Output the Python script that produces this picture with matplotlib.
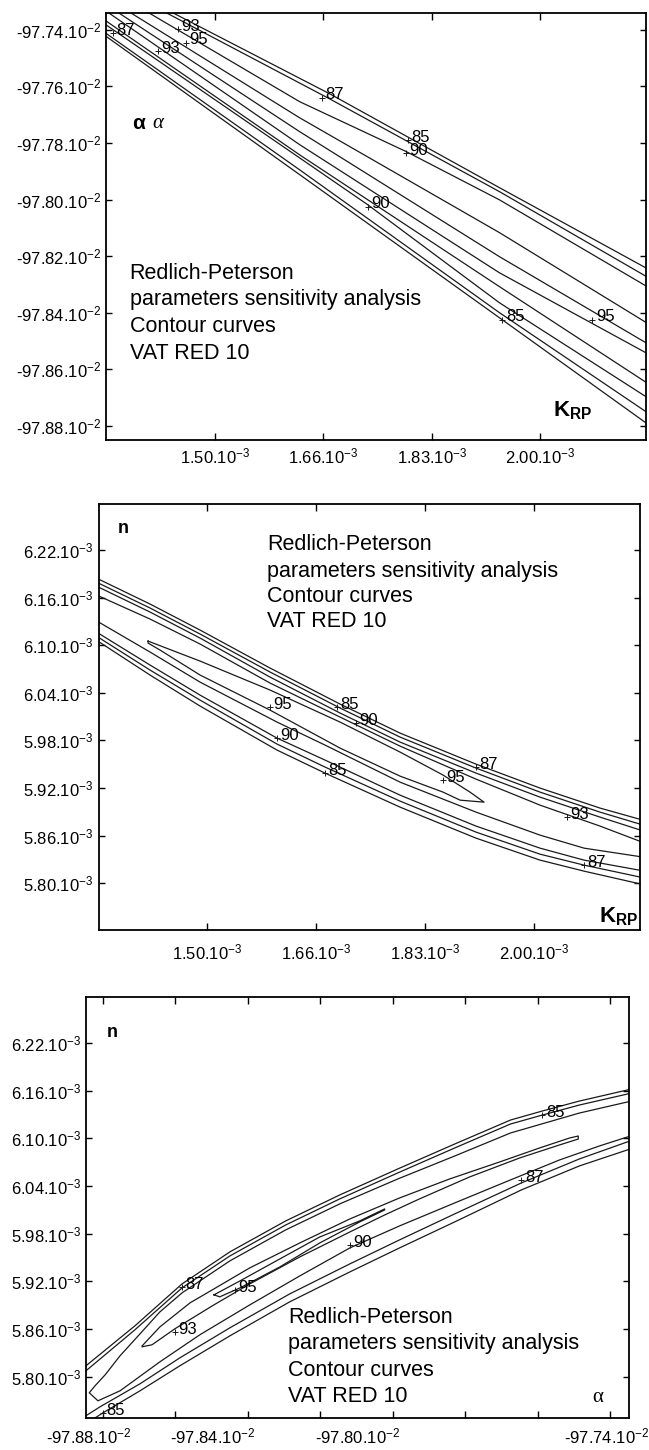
import matplotlib
matplotlib.use("Agg")
import matplotlib.pyplot as plt
from matplotlib.transforms import ScaledTranslation

plt.rcParams['font.family'] = ['Liberation Sans', 'DejaVu Sans']
plt.rcParams['mathtext.fontset'] = 'custom'
plt.rcParams['mathtext.rm'] = 'Liberation Sans'
plt.rcParams['mathtext.it'] = 'Liberation Sans:italic'
plt.rcParams['mathtext.bf'] = 'Liberation Sans:bold'

# ---------------- axes ticks / labels ----------------
k_ticks = [1.50, 1.6667, 1.8333, 2.00]                     # K_RP (x 1e-3)
k_labels = ['1.50', '1.66', '1.83', '2.00']
a_ticks = [-97.74, -97.76, -97.78, -97.80, -97.82, -97.84, -97.86, -97.88]   # alpha (x 1e-2)
n_ticks = [6.22, 6.16, 6.10, 6.04, 5.98, 5.92, 5.86, 5.80]                    # n (x 1e-3)
a3_ticks = [-97.88, -97.86, -97.84, -97.82, -97.80, -97.78, -97.76, -97.74]
a3_labels = ['-97.88', '', '-97.84', '', '-97.80', '', '', '-97.74']

# ---------------- panel 1 : alpha vs K_RP ----------------
# branches from top (85 upper) to bottom (85 lower)
p1_x = [
    [1.3972, 1.6764, 1.9371, 2.1979],
    [1.3880, 1.6764, 1.9371, 2.1979],
    [1.3650, 1.6304, 1.7945, 1.9371, 2.1979],
    [1.3390, 1.6304, 1.9371, 2.1979],
    [1.3221, 1.6304, 1.9371, 2.1979],
    [1.3083, 1.6304, 1.9371, 2.1979],
    [1.3083, 1.6304, 1.9371, 2.1979],
    [1.3083, 1.7347, 1.9371, 2.1979],
    [1.3083, 1.6304, 1.9371, 2.1979],
    [1.3083, 1.6304, 1.9371, 2.1979],
]
p1_y = [
    [-97.7294, -97.7626, -97.7958, -97.8287],
    [-97.7294, -97.7644, -97.7972, -97.8319],
    [-97.7294, -97.7654, -97.7831, -97.8001, -97.8354],
    [-97.7294, -97.7711, -97.8117, -97.8485],
    [-97.7294, -97.7760, -97.8202, -97.8555],
    [-97.7294, -97.7806, -97.8259, -97.8587],
    [-97.7329, -97.7842, -97.8308, -97.8700],
    [-97.7343, -97.8018, -97.8365, -97.8750],
    [-97.7372, -97.7895, -97.8400, -97.8806],
    [-97.7382, -97.7912, -97.8418, -97.8849],
]
p1_lab_x = [1.3436, 1.4433, 1.4560, 1.4126, 1.6641, 1.7960, 1.7929, 1.7347, 1.9417, 2.0798]
p1_lab_y = [-97.7411, -97.7398, -97.7445, -97.7474, -97.7640, -97.7789, -97.7835, -97.8025, -97.8425, -97.8425]
p1_lab_t = ['87', '93', '95', '93', '87', '85', '90', '90', '85', '95']

# ---------------- panel 2 : n vs K_RP ----------------
p2_xu = [1.3211, 1.4128, 1.4893, 1.5963, 1.7034, 1.7951, 1.9113, 2.0092, 2.1009, 2.1774]
p2_xl = [1.3211, 1.4128, 1.4893, 1.6070, 1.6804, 1.7951, 1.9113, 2.0092, 2.0765, 2.1774]
p2_85u = [6.1885, 6.1519, 6.1191, 6.0712, 6.0258, 5.9892, 5.9501, 5.9199, 5.8947, 5.8770]
p2_87u = [6.1834, 6.1469, 6.1141, 6.0662, 6.0208, 5.9842, 5.9451, 5.9148, 5.8896, 5.8707]
p2_90u = [6.1784, 6.1418, 6.1090, 6.0598, 6.0145, 5.9779, 5.9388, 5.9085, 5.8833, 5.8631]
p2_93u = [6.1670, 6.1330, 6.1015, 6.0523, 6.0094, 5.9728, 5.9312, 5.8984, 5.8720, 5.8480]
p2_93l = [6.1355, 6.0914, 6.0535, 6.0031, 5.9741, 5.9274, 5.8896, 5.8606, 5.8442, 5.8316]
p2_90l = [6.1216, 6.0750, 6.0371, 5.9829, 5.9552, 5.9110, 5.8720, 5.8442, 5.8291, 5.8140]
p2_87l = [6.1166, 6.0687, 6.0308, 5.9754, 5.9464, 5.9035, 5.8644, 5.8366, 5.8228, 5.8051]
p2_85l = [6.1116, 6.0624, 6.0233, 5.9678, 5.9388, 5.8959, 5.8568, 5.8291, 5.8152, 5.7963]
p2_95_x = [1.4098, 1.4893, 1.5963, 1.7034, 1.7951, 1.8609, 1.9021, 1.9235, 1.8869, 1.8609,
           1.7951, 1.7034, 1.5963, 1.4893, 1.4281, 1.4098, 1.4098]
p2_95_y = [6.1052, 6.0800, 6.0435, 6.0031, 5.9653, 5.9363, 5.9148, 5.9022, 5.9047, 5.9148,
           5.9350, 5.9703, 6.0182, 6.0624, 6.0939, 6.1027, 6.1052]
p2_lab_x = [1.5963, 1.6988, 1.7278, 1.6070, 1.6804, 1.8609, 1.9113, 2.0505, 2.0765]
p2_lab_y = [6.0220, 6.0220, 6.0018, 5.9829, 5.9388, 5.9300, 5.9464, 5.8833, 5.8228]
p2_lab_t = ['95', '85', '90', '90', '85', '95', '87', '93', '87']

# ---------------- panel 3 : n vs alpha ----------------
p3_85u_x = [-97.8862, -97.8846, -97.8711, -97.8581, -97.8449, -97.8295, -97.8146, -97.7986,
            -97.7829, -97.7675, -97.7587, -97.7485, -97.7353, -97.7320]
p3_85u_y = [5.8061, 5.8137, 5.8640, 5.9168, 5.9571, 5.9961, 6.0288, 6.0615,
            6.0929, 6.1231, 6.1345, 6.1470, 6.1609, 6.1646]
p3_87u_x = p3_85u_x
p3_87u_y = [5.7986, 5.8074, 5.8590, 5.9118, 5.9520, 5.9910, 6.0238, 6.0565,
            6.0879, 6.1181, 6.1294, 6.1420, 6.1558, 6.1596]
# 90 : open on the right, closes just inside the left border
p3_90_x = [-97.7320, -97.7353, -97.7485, -97.7675, -97.7829, -97.7986, -97.8146, -97.8295,
           -97.8449, -97.8581, -97.8642, -97.8697, -97.8752, -97.8793, -97.8821, -97.8837,
           -97.8813, -97.8752, -97.8642, -97.8532, -97.8394, -97.8256, -97.8118, -97.7981,
           -97.7829, -97.7675, -97.7540, -97.7430, -97.7353, -97.7320]
p3_90_y = [6.1496, 6.1458, 6.1319, 6.1068, 6.0778, 6.0489, 6.0175, 5.9848,
           5.9458, 5.9055, 5.8816, 5.8539, 5.8263, 5.8024, 5.7885, 5.7797,
           5.7696, 5.7822, 5.8187, 5.8527, 5.8904, 5.9269, 5.9621, 5.9898,
           6.0187, 6.0477, 6.0728, 6.0904, 6.1017, 6.1055]
p3_87l_x = [-97.8846, -97.8807, -97.8697, -97.8587, -97.8449, -97.8284, -97.8118, -97.7981,
            -97.7829, -97.7645, -97.7485, -97.7353, -97.7320]
p3_87l_y = [5.7508, 5.7621, 5.7910, 5.8237, 5.8615, 5.9042, 5.9420, 5.9722,
            6.0049, 6.0439, 6.0741, 6.0955, 6.0992]
p3_85l_x = [-97.8846, -97.8799, -97.8697, -97.8587, -97.8449, -97.8284, -97.8118, -97.7981,
            -97.7829, -97.7645, -97.7485, -97.7353, -97.7320]
p3_85l_y = [5.7407, 5.7545, 5.7822, 5.8137, 5.8514, 5.8942, 5.9319, 5.9621,
            5.9948, 6.0351, 6.0653, 6.0854, 6.0904]
p3_93_x = [-97.8691, -97.8642, -97.8559, -97.8493, -97.8394, -97.8256, -97.8118, -97.7981,
           -97.7843, -97.7705, -97.7595, -97.7512, -97.7488, -97.7488, -97.7540, -97.7650,
           -97.7788, -97.7926, -97.8022, -97.8118, -97.8256, -97.8394, -97.8493, -97.8601,
           -97.8664, -97.8691]
p3_93_y = [5.8388, 5.8627, 5.8929, 5.9105, 5.9370, 5.9684, 5.9986, 6.0250,
           6.0489, 6.0703, 6.0879, 6.1005, 6.1030, 6.0992, 6.0917, 6.0753,
           6.0514, 6.0238, 6.0036, 5.9822, 5.9508, 5.9168, 5.8904, 5.8602,
           5.8401, 5.8376]
p3_95_x = [-97.8493, -97.8421, -97.8311, -97.8201, -97.8091, -97.8022, -97.8022, -97.8091,
           -97.8201, -97.8311, -97.8421, -97.8477, -97.8493]
p3_95_y = [5.9030, 5.9206, 5.9483, 5.9759, 5.9961, 6.0112, 6.0099, 5.9948,
           5.9684, 5.9382, 5.9118, 5.9005, 5.9030]
p3_lab_x = [-97.7587, -97.7645, -97.8118, -97.8581, -97.8435, -97.8601, -97.8799]
p3_lab_y = [6.1294, 6.0477, 5.9659, 5.9130, 5.9093, 5.8564, 5.7545]
p3_lab_t = ['85', '87', '90', '87', '95', '93', '85']

block = ['Redlich-Peterson', 'parameters sensitivity analysis', 'Contour curves', 'VAT RED 10']

line_kw = dict(color='#1a1a1a', lw=0.9)


def contour_labels(ax, xs, ys, txt):
    for x, y, t in zip(xs, ys, txt):
        ax.plot(x, y, marker='+', ms=4, mew=0.7, color='#1a1a1a')
        ax.annotate(t, (x, y), xytext=(2.5, 2), textcoords='offset points',
                    ha='left', va='center', fontsize=12)


def style(ax):
    for s in ax.spines.values():
        s.set_linewidth(1.3)
    ax.tick_params(axis='x', direction='in', top=True, bottom=True, length=5, width=1,
                   labelsize=12)
    ax.tick_params(axis='y', direction='in', left=True, right=True, length=4, width=1,
                   labelsize=12)


def text_block(ax, x, ys):
    for y, t in zip(ys, block):
        ax.text(x, y, t, transform=ax.transAxes, fontsize=15.5, ha='left', va='baseline')


fig = plt.figure(figsize=(6.49, 14.5), dpi=100)
ax1 = fig.add_axes([0.1633, 0.6966, 0.8320, 0.2945])
ax2 = fig.add_axes([0.1518, 0.3586, 0.8344, 0.2938])
ax3 = fig.add_axes([0.1325, 0.0221, 0.8367, 0.2903])

# panel 1
for xs, ys in zip(p1_x, p1_y):
    ax1.plot(xs, ys, **line_kw)
contour_labels(ax1, p1_lab_x, p1_lab_y, p1_lab_t)
ax1.set_xlim(1.333, 2.162)
ax1.set_ylim(-97.885, -97.734)
ax1.set_xticks(k_ticks)
ax1.set_xticklabels([s + '.10$^{-3}$' for s in k_labels])
ax1.set_yticks(a_ticks)
ax1.set_yticklabels(['%.2f.10$^{-2}$' % v for v in a_ticks])
style(ax1)
ax1.tick_params(axis='x', pad=5)
ax1.text(0.048, 0.742, 'α', transform=ax1.transAxes, fontsize=15, fontweight='bold', va='center')
ax1.text(0.085, 0.742, 'α', transform=ax1.transAxes, fontsize=15, family='Liberation Serif',
         style='italic', va='center')
text_block(ax1, 0.044, [0.377, 0.316, 0.253, 0.190])
ax1.text(0.828, 0.054, r'$\mathbf{K}_{\mathbf{RP}}$', transform=ax1.transAxes, fontsize=16,
         va='baseline')

# panel 2
for ys in [p2_85u, p2_87u, p2_90u, p2_93u]:
    ax2.plot(p2_xu, ys, **line_kw)
for ys in [p2_93l, p2_90l, p2_87l, p2_85l]:
    ax2.plot(p2_xl, ys, **line_kw)
ax2.plot(p2_95_x, p2_95_y, **line_kw)
contour_labels(ax2, p2_lab_x, p2_lab_y, p2_lab_t)
ax2.set_xlim(1.334, 2.162)
ax2.set_ylim(5.741, 6.278)
ax2.set_xticks(k_ticks)
ax2.set_xticklabels([s + '.10$^{-3}$' for s in k_labels])
ax2.set_yticks(n_ticks)
ax2.set_yticklabels(['%.2f.10$^{-3}$' % v for v in n_ticks])
style(ax2)
ax2.tick_params(axis='x', pad=9)
ax2.text(0.036, 0.932, 'n', transform=ax2.transAxes, fontsize=13, fontweight='bold', va='baseline')
text_block(ax2, 0.311, [0.892, 0.829, 0.770, 0.711])
ax2.text(0.925, 0.019, r'$\mathbf{K}_{\mathbf{RP}}$', transform=ax2.transAxes, fontsize=16,
         va='baseline')

# panel 3
ax3.plot(p3_85u_x, p3_85u_y, **line_kw)
ax3.plot(p3_87u_x, p3_87u_y, **line_kw)
ax3.plot(p3_90_x, p3_90_y, **line_kw)
ax3.plot(p3_87l_x, p3_87l_y, **line_kw)
ax3.plot(p3_85l_x, p3_85l_y, **line_kw)
ax3.plot(p3_93_x, p3_93_y, **line_kw)
ax3.plot(p3_95_x, p3_95_y, **line_kw)
contour_labels(ax3, p3_lab_x, p3_lab_y, p3_lab_t)
ax3.set_xlim(-97.8846, -97.7348)
ax3.set_ylim(5.748, 6.278)
ax3.set_xticks(a3_ticks)
ax3.set_xticklabels([s + '.10$^{-2}$' if s else '' for s in a3_labels])
ax3.set_yticks(n_ticks)
ax3.set_yticklabels(['%.2f.10$^{-3}$' % v for v in n_ticks])
style(ax3)
ax3.tick_params(axis='x', pad=6)
# tick labels in the original sit a little left of their ticks
shifts_px = [-14, 0, -35, 0, -35, 0, 0, -4]
for lab, dx in zip(ax3.get_xticklabels(), shifts_px):
    lab.set_transform(lab.get_transform() + ScaledTranslation(dx / 100, 0, fig.dpi_scale_trans))
ax3.text(0.039, 0.905, 'n', transform=ax3.transAxes, fontsize=13, fontweight='bold', va='baseline')
text_block(ax3, 0.372, [0.226, 0.164, 0.100, 0.038])
ax3.text(0.932, 0.038, 'α', transform=ax3.transAxes, fontsize=15, family='Liberation Serif',
         va='baseline')

fig.savefig('out.png', dpi=100)
